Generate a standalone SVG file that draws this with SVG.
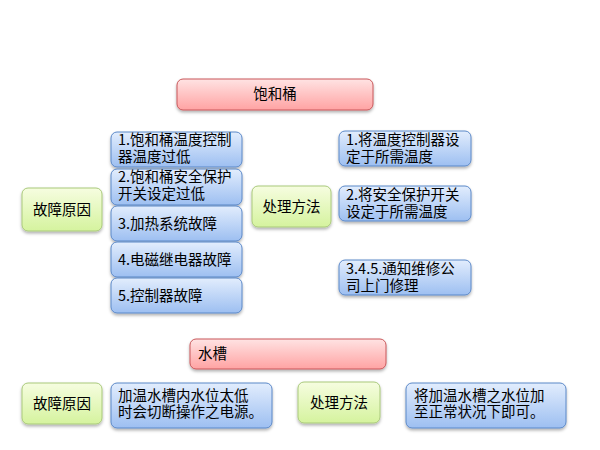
<svg xmlns="http://www.w3.org/2000/svg" width="600" height="450" viewBox="0 0 600 450">
<defs>
<linearGradient id="gRed" x1="0" y1="0" x2="0" y2="1"><stop offset="0" stop-color="#ffe3e3"/><stop offset="1" stop-color="#ffa3a3"/></linearGradient>
<linearGradient id="gGreen" x1="0" y1="0" x2="0" y2="1"><stop offset="0" stop-color="#f6fde0"/><stop offset="1" stop-color="#d5f39e"/></linearGradient>
<linearGradient id="gBlue" x1="0" y1="0" x2="0" y2="1"><stop offset="0" stop-color="#e2edfd"/><stop offset="1" stop-color="#9dbff1"/></linearGradient>
<filter id="sh" x="-10%" y="-10%" width="120%" height="140%"><feDropShadow dx="0" dy="2" stdDeviation="1.5" flood-color="#000" flood-opacity="0.3"/></filter>
<style>
rect{filter:url(#sh)}
.red{fill:url(#gRed);stroke:#c9575a;stroke-width:1}
.green{fill:url(#gGreen);stroke:#a9c97a;stroke-width:1}
.blue{fill:url(#gBlue);stroke:#5b88c8;stroke-width:1}
text{font-family:"Noto Sans CJK SC","Liberation Sans",sans-serif;font-size:14.5px;fill:#000}
.c{text-anchor:middle}
</style>
</defs>
<g id="connectors"/>
<g id="title1"><rect class="red" x="177" y="79" width="196" height="31" rx="6"/><text class="c" x="275" y="99">饱和桶</text></g>
<g id="cause1"><rect class="green" x="22" y="188" width="80" height="43" rx="6"/><text class="c" x="62" y="215">故障原因</text></g>
<g id="c1"><rect class="blue" x="111" y="132" width="131" height="35" rx="6"/><text x="118" y="145">1.饱和桶温度控制</text><text x="118" y="162">器温度过低</text></g>
<g id="c2"><rect class="blue" x="111" y="169" width="131" height="36" rx="6"/><text x="118" y="182">2.饱和桶安全保护</text><text x="118" y="199">开关设定过低</text></g>
<g id="c3"><rect class="blue" x="111" y="206" width="131" height="35" rx="6"/><text x="118" y="229">3.加热系统故障</text></g>
<g id="c4"><rect class="blue" x="111" y="242" width="131" height="35" rx="6"/><text x="118" y="265">4.电磁继电器故障</text></g>
<g id="c5"><rect class="blue" x="111" y="278" width="131" height="35" rx="6"/><text x="118" y="301">5.控制器故障</text></g>
<g id="method1"><rect class="green" x="252" y="186" width="79" height="41" rx="6"/><text class="c" x="291.5" y="212">处理方法</text></g>
<g id="m1"><rect class="blue" x="339" y="131" width="132" height="35" rx="6"/><text x="346" y="145">1.将温度控制器设</text><text x="346" y="162">定于所需温度</text></g>
<g id="m2"><rect class="blue" x="339" y="186" width="132" height="35" rx="6"/><text x="346" y="200">2.将安全保护开关</text><text x="346" y="217">设定于所需温度</text></g>
<g id="m3"><rect class="blue" x="339" y="260" width="132" height="35" rx="6"/><text x="346" y="274">3.4.5.通知维修公</text><text x="346" y="291">司上门修理</text></g>
<g id="title2"><rect class="red" x="190" y="339" width="196" height="30" rx="6"/><text x="198" y="359">水槽</text></g>
<g id="cause2"><rect class="green" x="22" y="383" width="80" height="41" rx="6"/><text class="c" x="62" y="409">故障原因</text></g>
<g id="c6"><rect class="blue" x="111" y="383" width="161" height="45" rx="6"/><text x="118" y="401">加温水槽内水位太低</text><text x="118" y="417">时会切断操作之电源。</text></g>
<g id="method2"><rect class="green" x="298" y="382" width="82" height="41" rx="6"/><text class="c" x="339" y="408">处理方法</text></g>
<g id="m4"><rect class="blue" x="406" y="383" width="160" height="45" rx="6"/><text x="414" y="401">将加温水槽之水位加</text><text x="414" y="417">至正常状况下即可。</text></g>
</svg>
